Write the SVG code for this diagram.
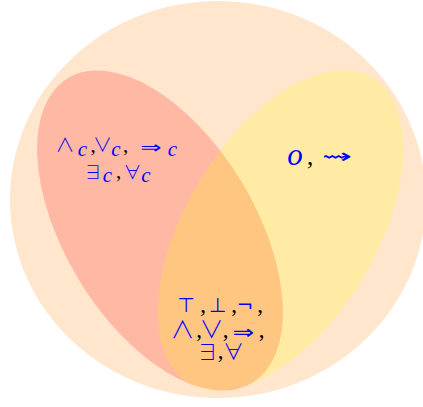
<svg xmlns="http://www.w3.org/2000/svg" width="423" height="407" viewBox="0 0 423 407">
<style>
.sym{font-family:"DejaVu Sans",sans-serif;fill:#0000ff;text-anchor:middle}
.lg{font-family:"Noto Sans CJK JP","DejaVu Sans",sans-serif;fill:#0000ff;text-anchor:middle;font-weight:300}
.it{font-family:"Liberation Serif",serif;font-style:italic;fill:#0000ff;text-anchor:middle}
.cm{font-family:"Liberation Serif",serif;fill:#000;text-anchor:middle}
.s17{font-size:17px}
.s20{font-size:20px}
.op1{font-size:19px}
.op2{font-size:24px}
.q1{font-size:18px}
.q2{font-size:21px}
.sub{font-size:21px}
.c1{font-size:21px}
.c2{font-size:23px}
</style>
<rect width="423" height="407" fill="#fff"/>
<g id="universe">
<ellipse cx="218" cy="199.5" rx="208" ry="198.5" fill="#ffe6cc"/>
</g>
<g id="classical">
<ellipse cx="160" cy="230.5" rx="178" ry="95" transform="rotate(58.8 160 230.5)" fill="#ff0000" fill-opacity="0.2"/>
<text class="lg op1" x="65" y="152">∧</text>
<text class="it sub" x="82.5" y="156">c</text>
<text class="cm c1" x="93" y="152">,</text>
<text class="lg op1" x="102.5" y="152">∨</text>
<text class="it sub" x="116" y="156">c</text>
<text class="cm c1" x="125.5" y="152">,</text>
<text class="sym s17" transform="translate(151 153) scale(1.5 1)" x="0" y="0">⇒</text>
<text class="it sub" x="172.5" y="156">c</text>
<text class="lg q1" x="93" y="179">∃</text>
<text class="it sub" x="107.5" y="182">c</text>
<text class="cm c1" x="118.5" y="178">,</text>
<text class="lg q1" x="132.5" y="179">∀</text>
<text class="it sub" x="146" y="182">c</text>
</g>
<g id="other">
<ellipse cx="280.5" cy="230.5" rx="178" ry="95" transform="rotate(-58.8 280.5 230.5)" fill="#ffff00" fill-opacity="0.2"/>
<text class="it" style="font-size:31px" x="295" y="165">o</text>
<text class="cm" style="font-size:25px" x="310" y="165">,</text>
<text class="sym" style="font-size:20px" transform="translate(337 163) scale(1.8 1)" x="0" y="0">⇝</text>
</g>
<g id="common">
<text class="sym s20" x="186" y="312">⊤</text>
<text class="cm c2" x="203" y="312">,</text>
<text class="sym s20" x="217.5" y="312">⊥</text>
<text class="cm c2" x="234" y="312">,</text>
<text class="sym s20" x="245" y="312">¬</text>
<text class="cm c2" x="260" y="312">,</text>
<text class="lg op2" x="182.5" y="338">∧</text>
<text class="cm c2" x="199" y="337">,</text>
<text class="lg op2" x="211.5" y="338">∨</text>
<text class="cm c2" x="225.5" y="337">,</text>
<text class="sym s20" transform="translate(243.5 339) scale(1.3 1)" x="0" y="0">⇒</text>
<text class="cm c2" x="261.5" y="337">,</text>
<text class="lg q2" x="207.5" y="359">∃</text>
<text class="cm c2" x="220.5" y="358">,</text>
<text class="lg q2" x="233.5" y="359">∀</text>
</g>
<g id="connectors"></g>
</svg>
